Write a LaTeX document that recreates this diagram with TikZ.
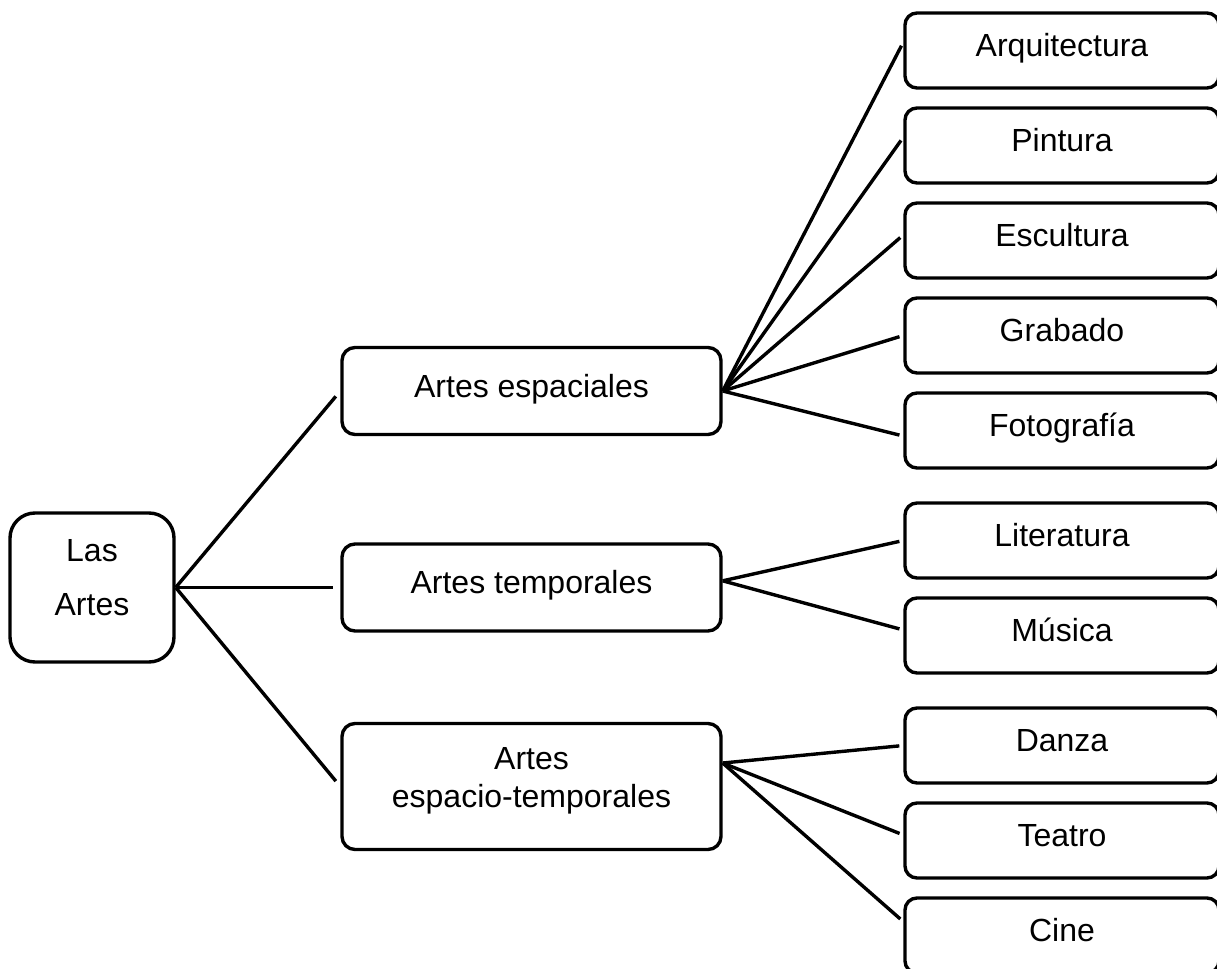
\documentclass[tikz,border=0pt]{standalone}
\usepackage{fontspec}
\setmainfont{Liberation Sans}
\begin{document}
\begin{tikzpicture}[
  box/.style={draw, rectangle, line width=1.7pt, font=\fontsize{16}{19}\selectfont},
  leaf/.style={box, rounded corners=6pt, minimum width=157pt, minimum height=37.5pt, text height=12pt, text depth=6pt},
  group/.style={box, rounded corners=6.5pt, minimum width=189.5pt, minimum height=43.5pt},
  link/.style={line width=1.7pt, shorten >=2pt}]
\useasboundingbox (0,0) rectangle (608.5pt,-484.5pt);

\node (root) [box, rounded corners=12.5pt, minimum width=82pt, minimum height=74.5pt] at (46pt,-293.75pt) {\raisebox{3.5pt}[\height][\depth]{\begin{tabular}{@{}c@{}}Las\\[8pt]Artes\end{tabular}}};
\node (tem) [group, text height=12pt, text depth=6pt, right of=root, node distance=219.75pt] {Artes temporales};
\node (esp) [group, text height=12pt, text depth=6pt, above of=tem, node distance=98.25pt] {Artes espaciales};
\node (est) [group, minimum height=63pt, below of=tem, node distance=99.5pt] {\raisebox{3pt}[\height][\depth]{\begin{tabular}{@{}c@{}}Artes\\espacio-temporales\end{tabular}}};

\node (arq) [leaf] at (531pt,-25.25pt) {Arquitectura};
\node (pin) [leaf, below of=arq, node distance=47.5pt] {Pintura};
\node (esc) [leaf, below of=pin, node distance=47.5pt] {Escultura};
\node (gra) [leaf, below of=esc, node distance=47.5pt] {Grabado};
\node (fot) [leaf, below of=gra, node distance=47.5pt] {Fotografía};
\node (lit) [leaf, below of=fot, node distance=55pt] {Literatura};
\node (mus) [leaf, below of=lit, node distance=47.5pt] {Música};
\node (dan) [leaf, below of=mus, node distance=55pt] {Danza};
\node (tea) [leaf, below of=dan, node distance=47.5pt] {Teatro};
\node (cin) [leaf, below of=tea, node distance=47.5pt] {Cine};

% root to groups
\draw [link, shorten >=3.5pt] (root.east) -- (esp.west);
\draw [link, shorten >=3.5pt] (root.east) -- (tem.west);
\draw [link, shorten >=3.5pt] (root.east) -- (est.west);

% groups to leaves
\draw [link] (esp.east) -- (arq.177);
\draw [link] (esp.east) -- (pin.177);
\draw [link] (esp.east) -- (esc.178);
\draw [link] (esp.east) -- (gra.west);
\draw [link] (esp.east) -- (fot.182);
\draw [link] (tem.2) -- (lit.west);
\draw [link] (tem.2) -- (mus.178);
\draw [link] (est.7) -- (dan.west);
\draw [link] (est.7) -- (tea.178);
\draw [link] (est.7) -- (cin.175);
\end{tikzpicture}
\end{document}
